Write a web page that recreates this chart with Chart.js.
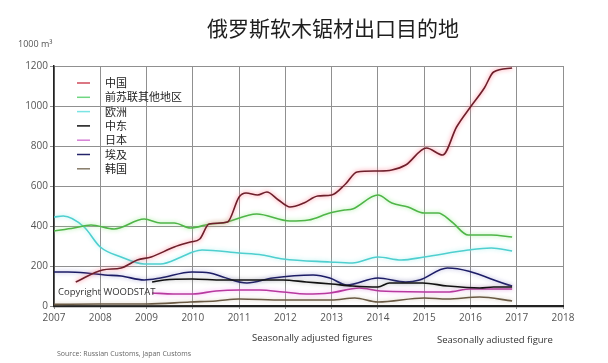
<!DOCTYPE html>
<html>
<head>
<meta charset="utf-8">
<script src="https://cdn.jsdelivr.net/npm/chart.js@4/dist/chart.umd.min.js"></script>
<style>
  html, body { margin: 0; padding: 0; background: #fff; }
  #wrap { width: 608px; height: 363px; position: relative; }
</style>
</head>
<body>
<div id="wrap"><canvas id="chart" width="608" height="363"></canvas></div>
<script>
/* ================= DATA ================= */
const seriesNames = ["中国", "前苏联其他地区", "欧洲", "中东", "日本", "埃及", "韩国"];

const chinaYears  = [2007.47, 2008.05, 2008.45, 2008.8, 2009.1, 2009.6, 2009.95, 2010.15, 2010.35, 2010.75, 2011.0, 2011.15, 2011.4, 2011.6, 2011.85, 2012.1, 2012.4, 2012.7, 2013.0, 2013.3, 2013.55, 2014.0, 2014.3, 2014.6, 2015.05, 2015.4, 2015.7, 2016.0, 2016.3, 2016.5, 2016.9];
const chinaValues = [120, 180, 190, 230, 245, 295, 320, 335, 410, 420, 545, 565, 555, 570, 530, 495, 515, 550, 555, 610, 670, 675, 680, 705, 790, 755, 895, 995, 1090, 1170, 1190];

const cisYears  = [2007.0, 2007.43, 2007.8, 2008.3, 2008.95, 2009.3, 2009.6, 2009.95, 2010.37, 2010.65, 2011.38, 2012.1, 2012.5, 2012.96, 2013.28, 2013.45, 2014.0, 2014.3, 2014.65, 2015.0, 2015.3, 2015.6, 2015.95, 2016.45, 2016.9];
const cisValues = [375, 390, 405, 385, 435, 415, 415, 390, 410, 415, 460, 425, 430, 465, 480, 485, 555, 515, 495, 465, 465, 420, 355, 355, 345];

const europeYears  = [2007.0, 2007.2, 2007.65, 2008.0, 2008.45, 2008.95, 2009.3, 2009.75, 2010.0, 2010.2, 2011.0, 2011.5, 2011.95, 2012.96, 2013.45, 2014.0, 2014.5, 2015.0, 2015.95, 2016.45, 2016.9];
const europeValues = [445, 450, 395, 295, 245, 210, 210, 245, 270, 280, 265, 255, 235, 220, 215, 245, 230, 245, 280, 290, 275];

const middleEastYears  = [2009.12, 2009.38, 2009.98, 2010.65, 2011.0, 2011.4, 2011.95, 2012.45, 2013.0, 2013.45, 2014.0, 2014.25, 2014.97, 2015.5, 2016.2, 2016.5, 2016.9];
const middleEastValues = [120, 130, 135, 130, 130, 130, 130, 120, 110, 100, 95, 115, 115, 100, 90, 95, 95];

const japanYears  = [2009.12, 2009.58, 2010.0, 2010.5, 2011.0, 2011.45, 2011.95, 2012.45, 2012.96, 2013.6, 2014.05, 2015.5, 2016.0, 2016.9];
const japanValues = [65, 60, 60, 75, 80, 80, 70, 60, 65, 90, 75, 70, 85, 85];

const egyptYears  = [2007.0, 2007.3, 2007.7, 2008.1, 2008.45, 2008.95, 2009.3, 2009.98, 2010.37, 2010.65, 2011.17, 2011.73, 2012.6, 2012.96, 2013.33, 2014.0, 2014.6, 2014.9, 2015.5, 2016.9];
const egyptValues = [170, 170, 165, 155, 150, 130, 140, 170, 165, 145, 115, 140, 155, 140, 105, 140, 120, 130, 190, 100];

const koreaYears  = [2007.0, 2008.0, 2009.0, 2009.94, 2010.5, 2011.0, 2011.95, 2013.0, 2013.5, 2014.0, 2015.0, 2015.5, 2016.2, 2016.9];
const koreaValues = [8, 10, 10, 20, 25, 35, 30, 30, 40, 20, 40, 35, 45, 25];

const yearTicks = [2007, 2008, 2009, 2010, 2011, 2012, 2013, 2014, 2015, 2016, 2017, 2018];
const valueTicks = [0, 200, 400, 600, 800, 1000, 1200];

/* ================= HELPERS ================= */
const pts = (xs, ys) => xs.map((x, i) => ({ x: x, y: ys[i] }));

const LATIN = "'Open Sans', 'Liberation Sans', sans-serif";
const CJK = "'Noto Sans CJK SC', 'Noto Sans', sans-serif";

const styles = [
  { line: "#6e1f2b", glow: "rgba(255,110,130,0.9)", key: "#cf4a5a" },
  { line: "#4fb548", glow: "rgba(150,235,140,0.9)", key: "#6fd681" },
  { line: "#4fcfcf", glow: "rgba(160,240,240,0.9)", key: "#7ae4e4" },
  { line: "#111111", glow: "rgba(120,120,120,0.6)", key: "#111111" },
  { line: "#b8389f", glow: "rgba(245,160,245,0.9)", key: "#d680d6" },
  { line: "#1c1c66", glow: "rgba(130,130,200,0.7)", key: "#24246a" },
  { line: "#6a5a44", glow: "rgba(200,185,160,0.8)", key: "#857a68" }
];

const allSeries = [
  pts(chinaYears, chinaValues),
  pts(cisYears, cisValues),
  pts(europeYears, europeValues),
  pts(middleEastYears, middleEastValues),
  pts(japanYears, japanValues),
  pts(egyptYears, egyptValues),
  pts(koreaYears, koreaValues)
];

/* ================= PLUGINS ================= */
const glow = {
  id: "glow",
  beforeDatasetDraw(chart, args) {
    const ds = chart.data.datasets[args.index];
    chart.ctx.save();
    chart.ctx.shadowColor = ds.glowColor;
    chart.ctx.shadowBlur = 4;
  },
  afterDatasetDraw(chart) {
    chart.ctx.restore();
  }
};

const extras = {
  id: "extras",
  afterDraw(chart) {
    const ctx = chart.ctx;
    ctx.save();

    // title
    ctx.fillStyle = "#1e1e1e";
    ctx.font = "21px " + CJK;
    ctx.textAlign = "center";
    ctx.textBaseline = "middle";
    ctx.fillText("俄罗斯软木锯材出口目的地", 333, 28);

    // unit
    ctx.fillStyle = "#555";
    ctx.font = "9px " + LATIN;
    ctx.textAlign = "left";
    ctx.fillText("1000 m³", 18, 44);

    // legend
    ctx.font = "11px " + CJK;
    chart.data.datasets.forEach((ds, i) => {
      const y = 83 + i * 14.3;
      ctx.strokeStyle = ds.keyColor;
      ctx.lineWidth = 1.5;
      ctx.beginPath();
      ctx.moveTo(77, y);
      ctx.lineTo(90, y);
      ctx.stroke();
      ctx.fillStyle = "#222";
      ctx.fillText(ds.label, 105, y);
    });

    // notes
    ctx.fillStyle = "#333";
    ctx.font = "9.5px " + LATIN;
    ctx.fillText("Copyright WOODSTAT", 58, 292);

    ctx.fillText("Seasonally adjusted figures", 252, 338);
    ctx.fillText("Seasonally adiusted figure", 437, 340);

    ctx.fillStyle = "#666";
    ctx.font = "7px " + LATIN;
    ctx.fillText("Source: Russian Customs, Japan Customs", 57, 354);

    ctx.restore();
  }
};

/* ================= CHART ================= */
new Chart(document.getElementById("chart"), {
  type: "line",
  data: {
    datasets: allSeries.map((data, i) => ({
      label: seriesNames[i],
      data: data,
      borderColor: styles[i].line,
      glowColor: styles[i].glow,
      keyColor: styles[i].key,
      borderWidth: 1.6,
      pointRadius: 0,
      fill: false,
      cubicInterpolationMode: "monotone"
    }))
  },
  options: {
    responsive: false,
    animation: false,
    layout: { padding: { left: 0, top: 66, right: 45, bottom: 37 } },
    plugins: {
      legend: { display: false },
      tooltip: { enabled: false },
      title: { display: false }
    },
    scales: {
      x: {
        type: "linear",
        min: yearTicks[0],
        max: yearTicks[yearTicks.length - 1],
        afterFit: s => { s.height = 20; },
        afterBuildTicks: s => { s.ticks = yearTicks.map(v => ({ value: v })); },
        ticks: {
          callback: v => String(v),
          color: "#555",
          font: { family: LATIN, size: 10 },
          padding: 3,
          maxRotation: 0
        },
        grid: { color: "#909090", lineWidth: 1, tickLength: 3 },
        border: { color: "#222", width: 2.2 }
      },
      y: {
        min: valueTicks[0],
        max: valueTicks[valueTicks.length - 1],
        afterFit: s => { s.width = 54; },
        afterBuildTicks: s => { s.ticks = valueTicks.map(v => ({ value: v })); },
        ticks: {
          callback: v => String(v),
          color: "#555",
          font: { family: LATIN, size: 10 },
          padding: 2
        },
        grid: { color: "#909090", lineWidth: 1, tickLength: 4 },
        border: { color: "#222", width: 1.5 }
      }
    }
  },
  plugins: [glow, extras]
});
</script>
</body>
</html>
